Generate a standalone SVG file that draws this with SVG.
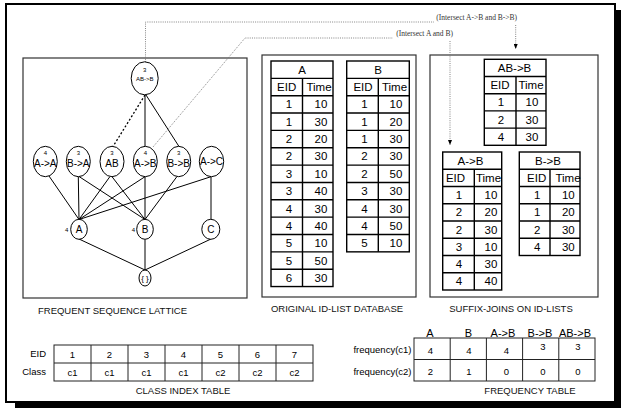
<svg xmlns="http://www.w3.org/2000/svg" width="621" height="411" viewBox="0 0 621 411">
<defs>
<style>
text{font-family:"Liberation Sans",Arial,sans-serif;fill:#000}
.tt{font-size:11.5px;text-anchor:middle}
.lbl{font-size:9.5px;text-anchor:middle;fill:#111}
.sm{font-size:9.5px;text-anchor:middle}
.ser{font-family:"Liberation Serif","Times New Roman",serif;font-size:7.5px;fill:#333;text-anchor:end}
.box{fill:none;stroke:#333;stroke-width:1.2}
.tb{fill:none;stroke:#000;stroke-width:1.4}
.tb2{fill:none;stroke:#222;stroke-width:1}
.nd{fill:#fff;stroke:#000;stroke-width:1}
.e{stroke:#000;stroke-width:1;fill:none}
.ed{stroke:#000;stroke-width:1.3;stroke-dasharray:2 2;fill:none}
.gd{stroke:#777;stroke-width:0.9;stroke-dasharray:1 1.2;fill:none}
.n1{font-size:6px;text-anchor:middle}
.n2{font-size:10px;text-anchor:middle}
</style>
<marker id="ah" markerUnits="userSpaceOnUse" markerWidth="5" markerHeight="4" refX="5" refY="2" orient="auto">
<path d="M0,0 L5,2 L0,4 z" fill="#000"/>
</marker>
</defs>
<rect width="621" height="411" fill="#fff"/>
<!-- frame and shadow -->
<rect x="615" y="10" width="6" height="398" fill="#000"/>
<rect x="15" y="402" width="606" height="6" fill="#000"/>
<rect x="6" y="4" width="609" height="398" fill="none" stroke="#000" stroke-width="2"/>

<!-- panels -->
<g id="panel-lattice">
<rect class="box" x="23" y="58" width="224" height="240"/>
<text class="lbl" x="112.5" y="313.5">FREQUENT SEQUENCE LATTICE</text>
</g>
<g id="panel-original">
<rect class="box" x="262" y="55" width="154" height="242"/>
<text class="lbl" x="337" y="312">ORIGINAL ID-LIST DATABASE</text>
</g>
<g id="panel-suffix">
<rect class="box" x="430" y="55" width="168" height="242"/>
<text class="lbl" x="511" y="312">SUFFIX-JOINS ON ID-LISTS</text>
</g>

<!-- connectors -->
<g id="connectors">
<line class="ed" x1="145" y1="95" x2="113" y2="146.5"/>
<line class="e" x1="145" y1="95" x2="145" y2="146.5"/>
<line class="e" x1="146" y1="95" x2="179" y2="146.5"/>
<line class="e" x1="49" y1="176" x2="79" y2="219.5"/>
<line class="e" x1="78.3" y1="176.7" x2="79" y2="219.5"/>
<line class="e" x1="79" y1="176.5" x2="145" y2="219.5"/>
<line class="e" x1="110" y1="176.5" x2="79" y2="219.5"/>
<line class="e" x1="112" y1="176.7" x2="145" y2="219.5"/>
<line class="e" x1="145" y1="176.7" x2="79" y2="219.5"/>
<line class="e" x1="145" y1="176.7" x2="145" y2="219.5"/>
<line class="e" x1="177" y1="176.5" x2="145" y2="219.5"/>
<line class="e" x1="211" y1="176.7" x2="79" y2="219.5"/>
<line class="e" x1="211" y1="176.7" x2="211" y2="219"/>
<line class="e" x1="79" y1="239" x2="145" y2="270"/>
<line class="e" x1="145" y1="239.5" x2="145" y2="270"/>
<line class="e" x1="211" y1="239" x2="145" y2="270"/>
<path class="gd" d="M145.5,62 V22 H434"/>
<path class="gd" d="M515.7,25 V49" marker-end="url(#ah)"/>
<path class="gd" d="M153,147 L245,38 H393"/>
<path class="gd" d="M450,41 V145" marker-end="url(#ah)"/>
<text class="ser" x="517" y="19.5">(Intersect A-&gt;B and B-&gt;B)</text>
<text class="ser" x="453" y="35.5">(Intersect A and B)</text>
</g>

<!-- lattice nodes -->
<g id="n-ABB"><ellipse class="nd" cx="144.7" cy="78.3" rx="13.5" ry="16.5"/><text class="n1" x="144.7" y="71.7">3</text><text class="n1" x="144.7" y="80.5">AB-&gt;B</text></g>
<g id="n-AA"><ellipse class="nd" cx="45.3" cy="161.5" rx="12" ry="15.2"/><text class="n1" x="45.3" y="155">4</text><text class="n2" x="45.3" y="167">A-&gt;A</text></g>
<g id="n-BA"><ellipse class="nd" cx="78.3" cy="161.5" rx="12" ry="15.2"/><text class="n1" x="78.3" y="155">3</text><text class="n2" x="78.3" y="167">B-&gt;A</text></g>
<g id="n-AB"><ellipse class="nd" cx="112" cy="161.5" rx="12" ry="15.2"/><text class="n1" x="112" y="155">3</text><text class="n2" x="112" y="167">AB</text></g>
<g id="n-AtoB"><ellipse class="nd" cx="145.3" cy="161.5" rx="12" ry="15.2"/><text class="n1" x="145.3" y="155">4</text><text class="n2" x="145.3" y="167">A-&gt;B</text></g>
<g id="n-BB"><ellipse class="nd" cx="178.7" cy="161.5" rx="12" ry="15.2"/><text class="n1" x="178.7" y="155">3</text><text class="n2" x="178.7" y="167">B-&gt;B</text></g>
<g id="n-AC"><ellipse class="nd" cx="211.5" cy="161.5" rx="12.2" ry="15.2"/><text class="n2" x="211.5" y="165">A-&gt;C</text></g>
<g id="n-A"><ellipse class="nd" cx="79" cy="229.3" rx="8.3" ry="10"/><text class="n2" x="79" y="233">A</text><text class="n1" x="66.7" y="232.3">4</text></g>
<g id="n-B"><ellipse class="nd" cx="145" cy="229.3" rx="8.3" ry="10"/><text class="n2" x="145" y="233">B</text><text class="n1" x="133.3" y="232.3">4</text></g>
<g id="n-C"><ellipse class="nd" cx="210.8" cy="229.3" rx="9" ry="10"/><text class="n2" x="210.8" y="233">C</text></g>
<g id="n-empty"><ellipse class="nd" cx="145" cy="278" rx="6" ry="8"/><text class="n1" x="145" y="280.5" style="font-size:8px">{ }</text></g>

<!-- table A -->
<g id="tbl-A">
<rect class="tb" x="271" y="61" width="62" height="225.55"/>
<path class="tb" d="M271,78.35H333M271,95.7H333M271,113.05H333M271,130.4H333M271,147.75H333M271,165.1H333M271,182.45H333M271,199.8H333M271,217.15H333M271,234.5H333M271,251.85H333M271,269.2H333M302.5,78.35V286.55"/>
<text class="tt" x="302" y="73.7">A</text>
<text class="tt" x="286.7" y="91">EID</text><text class="tt" x="319" y="91">Time</text>
<text class="tt" x="289" y="108.4">1</text><text class="tt" x="321" y="108.4">10</text>
<text class="tt" x="289" y="125.7">1</text><text class="tt" x="321" y="125.7">30</text>
<text class="tt" x="289" y="143.1">2</text><text class="tt" x="321" y="143.1">20</text>
<text class="tt" x="289" y="160.4">2</text><text class="tt" x="321" y="160.4">30</text>
<text class="tt" x="289" y="177.8">3</text><text class="tt" x="321" y="177.8">10</text>
<text class="tt" x="289" y="195.1">3</text><text class="tt" x="321" y="195.1">40</text>
<text class="tt" x="289" y="212.5">4</text><text class="tt" x="321" y="212.5">30</text>
<text class="tt" x="289" y="229.8">4</text><text class="tt" x="321" y="229.8">40</text>
<text class="tt" x="289" y="247.2">5</text><text class="tt" x="321" y="247.2">10</text>
<text class="tt" x="289" y="264.5">5</text><text class="tt" x="321" y="264.5">50</text>
<text class="tt" x="289" y="281.9">6</text><text class="tt" x="321" y="281.9">30</text>
</g>

<!-- table B -->
<g id="tbl-B">
<rect class="tb" x="346.7" y="61" width="62.6" height="190.85"/>
<path class="tb" d="M346.7,78.35H409.3M346.7,95.7H409.3M346.7,113.05H409.3M346.7,130.4H409.3M346.7,147.75H409.3M346.7,165.1H409.3M346.7,182.45H409.3M346.7,199.8H409.3M346.7,217.15H409.3M346.7,234.5H409.3M378.3,78.35V251.85"/>
<text class="tt" x="378" y="73.7">B</text>
<text class="tt" x="363" y="91">EID</text><text class="tt" x="394.5" y="91">Time</text>
<text class="tt" x="364.5" y="108.4">1</text><text class="tt" x="396" y="108.4">10</text>
<text class="tt" x="364.5" y="125.7">1</text><text class="tt" x="396" y="125.7">20</text>
<text class="tt" x="364.5" y="143.1">1</text><text class="tt" x="396" y="143.1">30</text>
<text class="tt" x="364.5" y="160.4">2</text><text class="tt" x="396" y="160.4">30</text>
<text class="tt" x="364.5" y="177.8">2</text><text class="tt" x="396" y="177.8">50</text>
<text class="tt" x="364.5" y="195.1">3</text><text class="tt" x="396" y="195.1">30</text>
<text class="tt" x="364.5" y="212.5">4</text><text class="tt" x="396" y="212.5">30</text>
<text class="tt" x="364.5" y="229.8">4</text><text class="tt" x="396" y="229.8">50</text>
<text class="tt" x="364.5" y="247.2">5</text><text class="tt" x="396" y="247.2">10</text>
</g>

<!-- table AB->B -->
<g id="tbl-ABB">
<rect class="tb" x="484.3" y="59.3" width="61.7" height="86"/>
<path class="tb" d="M484.3,76.5H546M484.3,93.7H546M484.3,110.9H546M484.3,128.1H546M516,76.5V145.3"/>
<text class="tt" x="514.5" y="71.9">AB-&gt;B</text>
<text class="tt" x="500" y="89.1">EID</text><text class="tt" x="531" y="89.1">Time</text>
<text class="tt" x="501" y="106.3">1</text><text class="tt" x="532" y="106.3">10</text>
<text class="tt" x="501" y="123.5">2</text><text class="tt" x="532" y="123.5">30</text>
<text class="tt" x="501" y="140.7">4</text><text class="tt" x="532" y="140.7">30</text>
</g>

<!-- table A->B -->
<g id="tbl-AtoB">
<rect class="tb" x="442.7" y="152" width="59" height="138"/>
<path class="tb" d="M442.7,169.25H501.7M442.7,186.5H501.7M442.7,203.75H501.7M442.7,221H501.7M442.7,238.25H501.7M442.7,255.5H501.7M442.7,272.75H501.7M474.3,169.25V290"/>
<text class="tt" x="470.5" y="164.6">A-&gt;B</text>
<text class="tt" x="455.5" y="181.9">EID</text><text class="tt" x="488.5" y="181.9">Time</text>
<text class="tt" x="459" y="199.1">1</text><text class="tt" x="491" y="199.1">10</text>
<text class="tt" x="459" y="216.4">2</text><text class="tt" x="491" y="216.4">20</text>
<text class="tt" x="459" y="233.6">2</text><text class="tt" x="491" y="233.6">30</text>
<text class="tt" x="459" y="250.9">3</text><text class="tt" x="491" y="250.9">10</text>
<text class="tt" x="459" y="268.1">4</text><text class="tt" x="491" y="268.1">30</text>
<text class="tt" x="459" y="285.4">4</text><text class="tt" x="491" y="285.4">40</text>
</g>

<!-- table B->B -->
<g id="tbl-BB">
<rect class="tb" x="519.3" y="152" width="60.7" height="103.5"/>
<path class="tb" d="M519.3,169.25H580M519.3,186.5H580M519.3,203.75H580M519.3,221H580M519.3,238.25H580M550,169.25V255.5"/>
<text class="tt" x="548" y="164.6">B-&gt;B</text>
<text class="tt" x="536.7" y="181.9">EID</text><text class="tt" x="568" y="181.9">Time</text>
<text class="tt" x="537.3" y="199.1">1</text><text class="tt" x="568.3" y="199.1">10</text>
<text class="tt" x="537.3" y="216.4">1</text><text class="tt" x="568.3" y="216.4">20</text>
<text class="tt" x="537.3" y="233.6">2</text><text class="tt" x="568.3" y="233.6">30</text>
<text class="tt" x="537.3" y="250.9">4</text><text class="tt" x="568.3" y="250.9">30</text>
</g>

<!-- class index table -->
<g id="tbl-class">
<rect class="tb2" x="54" y="345" width="259" height="36"/>
<path class="tb2" d="M54,363H313M91,345V381M128,345V381M165,345V381M202,345V381M239,345V381M276,345V381"/>
<text class="sm" x="46" y="357.3" style="text-anchor:end">EID</text>
<text class="sm" x="46" y="375.3" style="text-anchor:end">Class</text>
<text class="sm" x="72.5" y="357.5">1</text><text class="sm" x="109.5" y="357.5">2</text><text class="sm" x="146.5" y="357.5">3</text><text class="sm" x="183.5" y="357.5">4</text><text class="sm" x="220.5" y="357.5">5</text><text class="sm" x="257.5" y="357.5">6</text><text class="sm" x="294.5" y="357.5">7</text>
<text class="sm" x="72.5" y="375.5">c1</text><text class="sm" x="109.5" y="375.5">c1</text><text class="sm" x="146.5" y="375.5">c1</text><text class="sm" x="183.5" y="375.5">c1</text><text class="sm" x="220.5" y="375.5">c2</text><text class="sm" x="257.5" y="375.5">c2</text><text class="sm" x="294.5" y="375.5">c2</text>
<text class="lbl" x="183" y="394">CLASS INDEX TABLE</text>
</g>

<!-- frequency table -->
<g id="tbl-freq">
<rect class="tb2" x="414" y="338" width="181" height="43"/>
<path class="tb2" d="M414,359.5H595M450.2,338V381M486.4,338V381M522.6,338V381M558.8,338V381"/>
<text class="tt" x="430" y="336.5" style="font-size:11px">A</text>
<text class="tt" x="468.3" y="336.5" style="font-size:11px">B</text>
<text class="tt" x="503" y="336.5" style="font-size:11px">A-&gt;B</text>
<text class="tt" x="540" y="336.5" style="font-size:11px">B-&gt;B</text>
<text class="tt" x="575" y="336.5" style="font-size:11px">AB-&gt;B</text>
<text class="sm" x="411.5" y="353.3" style="text-anchor:end">frequency(c1)</text>
<text class="sm" x="411.5" y="375" style="text-anchor:end">frequency(c2)</text>
<text class="sm" x="430.5" y="353.5">4</text><text class="sm" x="469" y="353.5">4</text><text class="sm" x="506.5" y="353.5">4</text><text class="sm" x="543" y="350.3">3</text><text class="sm" x="578" y="350.3">3</text>
<text class="sm" x="430.5" y="375">2</text><text class="sm" x="469" y="375">1</text><text class="sm" x="506.5" y="375">0</text><text class="sm" x="543" y="375">0</text><text class="sm" x="578" y="375">0</text>
<text class="lbl" x="530" y="394">FREQUENCY TABLE</text>
</g>
</svg>
